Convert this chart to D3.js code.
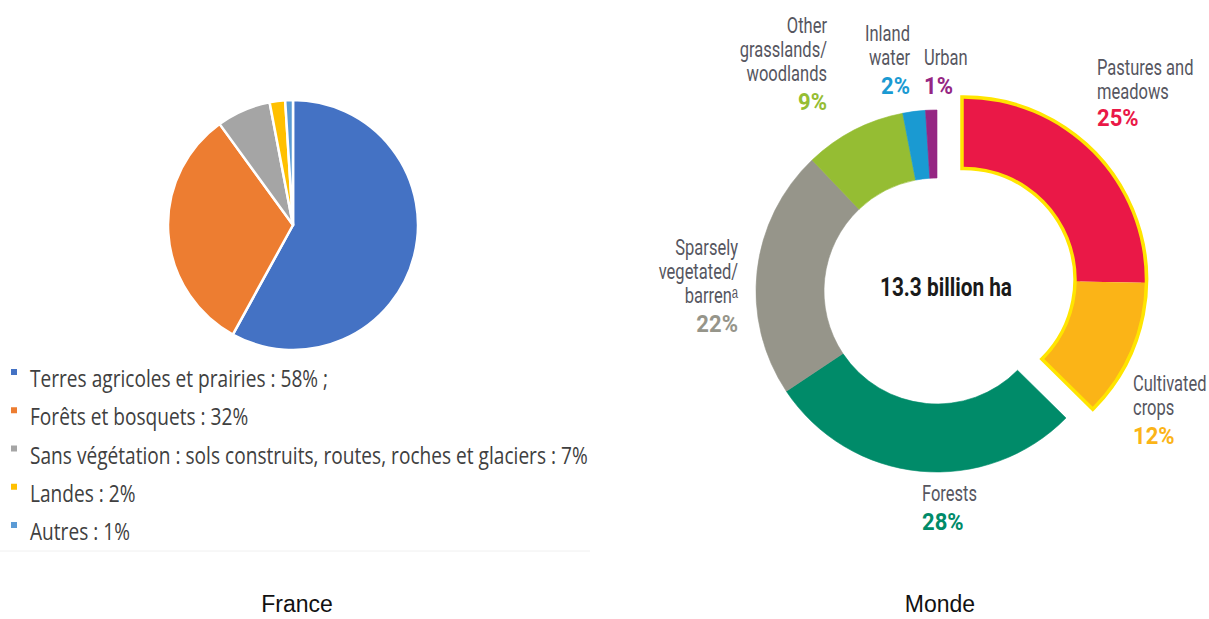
<!DOCTYPE html>
<html>
<head>
<meta charset="utf-8">
<script src="https://cdn.jsdelivr.net/npm/d3@7"></script>
<style>
  html, body { margin: 0; padding: 0; background: #fff; }
  svg { display: block; }
</style>
</head>
<body>
<svg id="chart" width="1209" height="619"></svg>
<script>
// ---- France: land cover shares (%) ----
const franceLabels = [
  "Terres agricoles et prairies : 58% ;",
  "Forêts et bosquets : 32%",
  "Sans végétation : sols construits, routes, roches et glaciers : 7%",
  "Landes : 2%",
  "Autres : 1%"
];
const franceValues = [58, 32, 7, 2, 1];
const franceColors = ["#4472C4", "#ED7D31", "#A5A5A5", "#FFC000", "#5B9BD5"];

// ---- World: land cover shares (%) ----
const worldNames = [
  ["Pastures and", "meadows"],
  ["Cultivated", "crops"],
  ["Forests"],
  ["Sparsely", "vegetated/", "barren\u1d43"],
  ["Other", "grasslands/", "woodlands"],
  ["Inland", "water"],
  ["Urban"]
];
const worldValues = [25, 12, 28, 22, 9, 2, 1];
const worldColors = ["#EA1847", "#FBB417", "#008B69", "#96958A", "#95BD33", "#1A9AD2", "#952683"];
const worldExploded = [true, true, false, false, false, false, false];
const worldTotal = "13.3 billion ha";
const captions = ["France", "Monde"];

const svg = d3.select("#chart");

// Horizontal squeeze to imitate a condensed face: x is kept as the anchor point.
function squeeze(sel, k) {
  sel.each(function () {
    const t = d3.select(this);
    const x = +t.attr("x");
    t.attr("x", x / k).attr("transform", `scale(${k},1)`);
  });
}

// ================= France pie =================
const pieG = svg.append("g").attr("transform", "translate(293,225)");
const pieGen = d3.pie().sort(null).value(d => d);
const pieArc = d3.arc().innerRadius(0).outerRadius(125);
pieG.selectAll("path")
  .data(pieGen(franceValues))
  .join("path")
  .attr("d", pieArc)
  .attr("fill", (d, i) => franceColors[i])
  .attr("stroke", "#fff")
  .attr("stroke-width", 2.5)
  .attr("stroke-linejoin", "round");

// legend
const legY = d3.scalePoint().domain(d3.range(franceLabels.length)).range([387, 540]);
const legG = svg.append("g");
const legRows = legG.selectAll("g").data(franceLabels).join("g")
  .attr("transform", (d, i) => `translate(0,${legY(i)})`);
legRows.append("rect")
  .attr("x", 11).attr("y", -18).attr("width", 6).attr("height", 6)
  .attr("fill", (d, i) => franceColors[i]);
const legTexts = legRows.append("text")
  .attr("x", 30).attr("y", 0)
  .attr("font-family", "'Open Sans', sans-serif")
  .attr("font-size", 24)
  .attr("fill", "#404040")
  .text(d => d);
// one factor for all rows so the longest row ends near x≈588
const longest = d3.max(legTexts.nodes(), n => n.getComputedTextLength());
squeeze(legTexts, 558 / longest);
legG.append("line").attr("x1", 0).attr("x2", 590).attr("y1", 551).attr("y2", 551)
  .attr("stroke", "#f0f0f0").attr("stroke-width", 1);

// ================= World donut =================
const cx = 937, cy = 291, R = 181, r = 113;
const donutG = svg.append("g").attr("transform", `translate(${cx},${cy})`);
const worldPie = d3.pie().sort(null).value(d => d);
const arcs = worldPie(worldValues);
const donutArc = d3.arc().innerRadius(r).outerRadius(R);

// exploded group shifted along its bisector, outlined in yellow
const exp = arcs.filter((d, i) => worldExploded[i]);
const expStart = d3.min(exp, d => d.startAngle), expEnd = d3.max(exp, d => d.endAngle);
const mid = (expStart + expEnd) / 2, shift = 29;
const expG = donutG.append("g")
  .attr("transform", `translate(${Math.sin(mid) * shift},${-Math.cos(mid) * shift})`);
expG.append("path")
  .attr("d", donutArc({ startAngle: expStart, endAngle: expEnd }))
  .attr("fill", "none").attr("stroke", "#FFE500").attr("stroke-width", 7).attr("stroke-linejoin", "miter");
expG.selectAll("path.seg").data(exp).join("path").attr("class", "seg")
  .attr("d", donutArc)
  .attr("fill", d => worldColors[d.index]);

donutG.selectAll("path.main").data(arcs.filter((d, i) => !worldExploded[i])).join("path")
  .attr("class", "main")
  .attr("d", donutArc)
  .attr("fill", d => worldColors[d.index])
  .attr("stroke", d => worldColors[d.index]).attr("stroke-width", 0.6);

// centre total
const totalText = svg.append("text")
  .attr("x", 946).attr("y", 296).attr("text-anchor", "middle")
  .attr("font-family", "Roboto, sans-serif").attr("font-weight", 700)
  .attr("font-size", 26).attr("fill", "#1a1a1a")
  .text(worldTotal);
squeeze(totalText, 0.8);

// label placement for each world category
const labelSpec = [
  { x: 1097, a: "start", y: 75, pct: 126 },
  { x: 1133, a: "start", y: 391, pct: 444 },
  { x: 922, a: "start", y: 501, pct: 530 },
  { x: 738, a: "end", y: 255, pct: 332 },
  { x: 827, a: "end", y: 33, pct: 110 },
  { x: 910, a: "end", y: 41, pct: 94 },
  { x: 924, a: "start", y: 65, pct: 94 }
];
const labG = svg.append("g").attr("font-family", "Roboto, sans-serif");
worldNames.forEach((lines, i) => {
  const s = labelSpec[i];
  const g = labG.append("g");
  const names = g.selectAll("text.n").data(lines).join("text").attr("class", "n")
    .attr("x", s.x).attr("y", (d, j) => s.y + j * 24)
    .attr("text-anchor", s.a)
    .attr("font-size", 22).attr("fill", "#56565f")
    .text(d => d);
  squeeze(names, 0.75);
  const p = g.append("text")
    .attr("x", s.x).attr("y", s.pct).attr("text-anchor", s.a)
    .attr("font-size", 24).attr("font-weight", 700)
    .attr("fill", worldColors[i])
    .text(d3.format(".0f")(worldValues[i]) + "%");
  squeeze(p, 0.92);
});

// captions
svg.selectAll("text.cap").data(captions).join("text").attr("class", "cap")
  .attr("x", (d, i) => [297, 940][i]).attr("y", 612)
  .attr("text-anchor", "middle")
  .attr("font-family", "'Liberation Sans', sans-serif").attr("font-size", 23)
  .attr("fill", "#111")
  .text(d => d);
</script>
</body>
</html>
